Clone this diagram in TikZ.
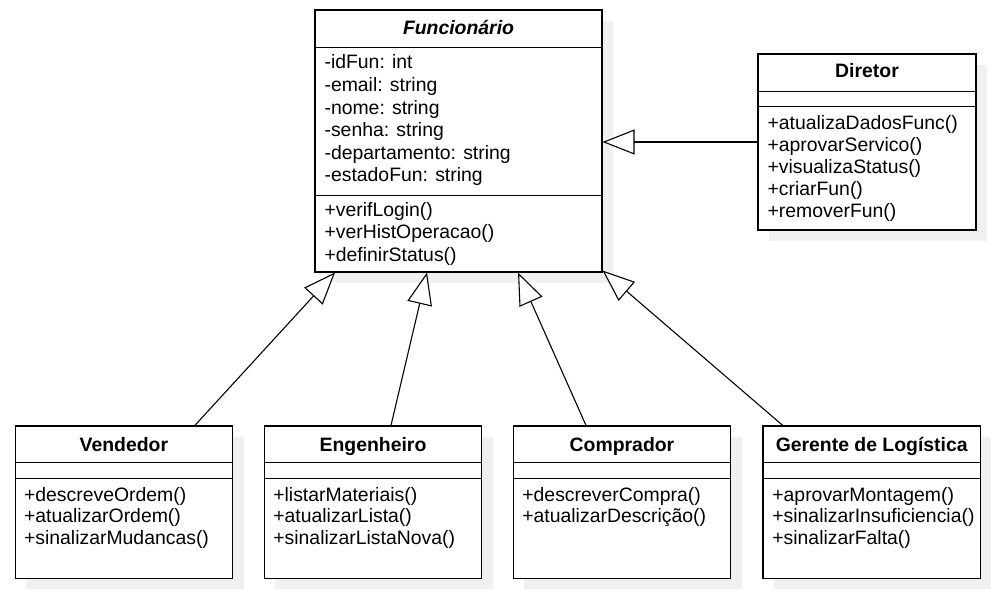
\documentclass[tikz,border=0pt]{standalone}
\usepackage{fontspec}
\setmainfont{Liberation Sans}
\usetikzlibrary{arrows.meta,shadows}

\begin{document}
\begin{tikzpicture}[x=1pt,y=-1pt,line width=1.1pt,font=\fontsize{19.4}{22}\selectfont,
  cls/.style={draw,rectangle,fill=white,inner sep=0pt,drop shadow={shadow xshift=11pt,shadow yshift=-11pt,fill=black!6,opacity=1}},
  hdr/.style={inner sep=0pt,anchor=base,font=\fontsize{19.4}{22}\selectfont\bfseries},
  mbr/.style={inner sep=0pt,anchor=base west},
  inh/.style={-{Triangle[length=32pt,width=25pt,fill=white]}}]
\useasboundingbox (0,0) rectangle (1000,599);
% Funcionario
\node[cls,minimum width=287,minimum height=262] (fun) at (458.5,141) {};
\draw ([yshift=-38pt]fun.north west) -- ([yshift=-38pt]fun.north east);
\draw ([yshift=-186pt]fun.north west) -- ([yshift=-186pt]fun.north east);
\node[hdr] (tfun) at (458.5,35) {\itshape Funcionário};
\foreach \t [count=\i from 0] in {-idFun: int,-email: string,-nome: string,-senha: string,-departamento: string,-estadoFun: string}
   \node[mbr] (funA\i) at (324,{69+22.5*\i}) {\t};
\foreach \t [count=\i from 0] in {+verifLogin(),+verHistOperacao(),+definirStatus()}
   \node[mbr] (funM\i) at (324,{216+22.5*\i}) {\t};
% Diretor
\node[cls,minimum width=218,minimum height=176] (dir) at (867,142) {};
\draw ([yshift=-38pt]dir.north west) -- ([yshift=-38pt]dir.north east);
\draw ([yshift=-53pt]dir.north west) -- ([yshift=-53pt]dir.north east);
\node[hdr] (tdir) at (867,78) {Diretor};
\foreach \t [count=\i from 0] in {+atualizaDadosFunc(),+aprovarServico(),+visualizaStatus(),+criarFun(),+removerFun()}
   \node[mbr] (dirM\i) at (767,{129+22*\i}) {\t};
% subclasses
\foreach \n/\x/\t in {vend/123.9/Vendedor,eng/373/Engenheiro,comp/622/Comprador,ger/871.7/Gerente de Logística} {
   \node[cls,minimum width=217.5,minimum height=152.5] (\n) at (\x,502.2) {};
   \draw ([yshift=-37.5pt]\n.north west) -- ([yshift=-37.5pt]\n.north east);
   \draw ([yshift=-53.5pt]\n.north west) -- ([yshift=-53.5pt]\n.north east);
   \node[hdr] (t\n) at (\x,451.5) {\t};
}
\foreach \t [count=\i from 0] in {+descreveOrdem(),+atualizarOrdem(),+sinalizarMudancas()}
   \node[mbr] (vendM\i) at (23.5,{501+21.7*\i}) {\t};
\foreach \t [count=\i from 0] in {+listarMateriais(),+atualizarLista(),+sinalizarListaNova()}
   \node[mbr] (engM\i) at (272.8,{501+21.7*\i}) {\t};
\foreach \t [count=\i from 0] in {+descreverCompra(),+atualizarDescrição()}
   \node[mbr] (compM\i) at (521.8,{501+21.7*\i}) {\t};
\foreach \t [count=\i from 0] in {+aprovarMontagem(),+sinalizarInsuficiencia(),+sinalizarFalta()}
   \node[mbr] (gerM\i) at (771.8,{501+21.7*\i}) {\t};
% heranca
\draw[inh] (dir.west) -- (fun.east |- dir.west);
\draw[inh] ([xshift=71pt]vend.north) -- ([xshift=-123.5pt]fun.south);
\draw[inh] ([xshift=18pt]eng.north) -- ([xshift=-31.5pt]fun.south);
\draw[inh] ([xshift=-36pt]comp.north) -- ([xshift=59.5pt]fun.south);
\draw[inh] ([xshift=-89pt]ger.north) -- ([yshift=2pt]fun.south east);
\end{tikzpicture}
\end{document}
